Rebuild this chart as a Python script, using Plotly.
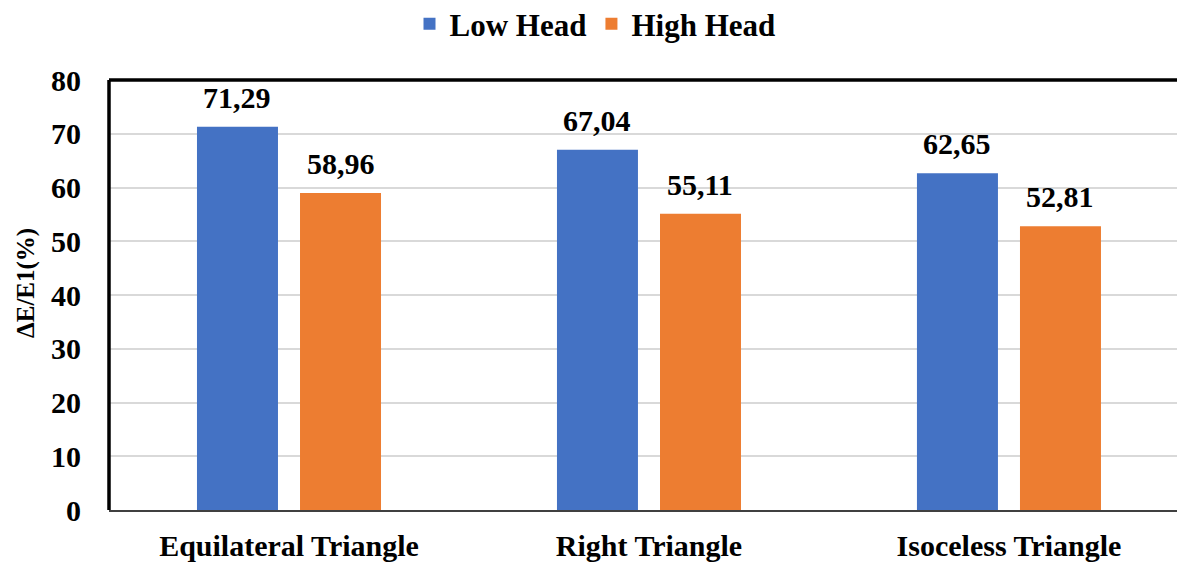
import plotly.graph_objects as go

categories = ["Equilateral Triangle", "Right Triangle", "Isoceless Triangle"]
low_head = [71.29, 67.04, 62.65]
high_head = [58.96, 55.11, 52.81]
series_names = ["Low Head", "High Head"]
y_ticks = [0, 10, 20, 30, 40, 50, 60, 70, 80]
y_title = "ΔE/E1(%)"

FONT = "Liberation Serif"
BLUE = "#4472C4"
ORANGE = "#ED7D31"
BAR_W = 0.225
OFFSETS = [-0.2556, 0.0306]


def f(size):
    return dict(family=FONT, size=size, color="black")


def b(s):
    return f"<b>{s}</b>"


fig = go.Figure()
for name, vals, color, off in [(series_names[0], low_head, BLUE, OFFSETS[0]),
                               (series_names[1], high_head, ORANGE, OFFSETS[1])]:
    fig.add_trace(go.Bar(
        x=categories, y=vals, name=b(name),
        marker=dict(color=color, line=dict(width=0)),
        width=BAR_W, offset=off,
    ))
    for i, v in enumerate(vals):
        fig.add_annotation(
            x=i + off + BAR_W / 2, y=v, xref="x", yref="y",
            text=b(f"{v:.2f}".replace(".", ",")), showarrow=False,
            yanchor="bottom", yshift=11, font=f(30),
        )

# y-axis title as rotated annotation
fig.add_annotation(
    x=0, y=0.528, xref="paper", yref="paper", xanchor="center", yanchor="middle",
    xshift=-83, textangle=-90, text=b(y_title), showarrow=False, font=f(25),
)

# page has 8px body margin -> compensate
W, H = 1177, 558
fig.update_layout(
    width=W, height=H,
    margin=dict(l=101, r=0, t=72, b=56, autoexpand=False),
    paper_bgcolor="white", plot_bgcolor="white",
    barmode="overlay",
    font=f(28),
    showlegend=True,
    legend=dict(
        orientation="h", xref="container", yref="container",
        x=(595 - 8) / W, xanchor="center", y=1 - 16 / H, yanchor="middle",
        font=f(31),
        itemsizing="constant",
    ),
    xaxis=dict(
        range=[-0.5, 2.489], showgrid=False, ticks="",
        showline=True, linecolor="#404040", linewidth=2,
        tickfont=f(30), ticklabelstandoff=8,
        tickvals=categories, ticktext=[b(c) for c in categories],
        fixedrange=True,
    ),
    yaxis=dict(
        range=[0, 80], tickvals=y_ticks, ticktext=[b(str(t)) for t in y_ticks],
        ticks="",
        showgrid=True, gridcolor="#D9D9D9", gridwidth=1.5,
        zeroline=False, showline=False,
        tickfont=f(30),
        ticklabelstandoff=27,
    ),
)

# black frame on top and left
fig.add_shape(type="line", xref="paper", yref="paper", x0=0, x1=1, y0=1, y1=1,
              line=dict(color="black", width=3.5), layer="above")
fig.add_shape(type="line", xref="paper", yref="paper", x0=0, x1=0, y0=0, y1=1,
              line=dict(color="black", width=3.5), layer="above")

fig.write_html("out.html")
